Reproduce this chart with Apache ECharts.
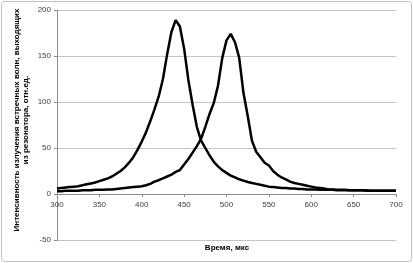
<!DOCTYPE html>
<html>
<head>
<meta charset="utf-8">
<script src="https://cdn.jsdelivr.net/npm/echarts@6/dist/echarts.min.js"></script>
<style>
html,body{margin:0;padding:0;background:#fff;}
#c{width:413px;height:263px;}
</style>
</head>
<body>
<div id="c"></div>
<script>
const time = [300,305,310,315,320,325,330,335,340,345,350,355,360,365,370,375,380,385,390,395,400,405,410,415,420,425,430,435,440,445,450,455,460,465,470,475,480,485,490,495,500,505,510,515,520,525,530,535,540,545,550,555,560,565,570,575,580,585,590,595,600,605,610,615,620,625,630,635,640,645,650,655,660,665,670,675,680,685,690,695,700];
const waveA = [6,6.5,7,7.5,8,8.5,9.5,10.5,11.5,12.5,14,15.5,17,19,22,25,29,34,40,48,57,67,79,92,106,125,152,176,189,182,158,124,97,73,58,50,42,35,30,26,23,20,18,16,14.5,13,12,11,10,9,8,7.5,7,6.5,6.5,6,6,5.5,5.5,5,5,5,4.5,4.5,4.5,4.5,4,4,4,4,4,4,4,3.5,3.5,3.5,3.5,3.5,3.5,3.5,3.5];
const waveB = [3,3,3.5,3.5,3.5,3.5,4,4,4,4.5,4.5,4.5,5,5,5.5,6,6.5,7,7.5,8,8.5,9.5,11,13.4,15,17,19,21,24,26,32,38,45,52,60,73,87,99,118,148,167,174,165,148,110,85,58,46,40,34,31,25,21,18,16,13.5,12,11,10,9,8,7,6.5,6,5,5,4.5,4.5,4.5,4,4,4,4,4,3.5,3.5,3.5,3.5,3.5,3.5,3.5];
const yTitle = 'Интенсивность излучения встречных волн, выходящих\nиз резонатора, отн.ед.';
const xTitle = 'Время, мкс';

const chart = echarts.init(document.getElementById('c'), null, {renderer:'canvas'});
const pairs = a => time.map((t,i)=>[t,a[i]]);
chart.setOption({
  animation:false,
  backgroundColor:'#fff',
  grid:{left:57,right:17,top:10,bottom:23},
  xAxis:{
    type:'value',min:300,max:700,interval:50,
    offset:-46,
    axisLine:{onZero:false,lineStyle:{color:'#8c8c8c',width:1}},
    axisTick:{show:true,length:3,inside:false,lineStyle:{color:'#8c8c8c'}},
    axisLabel:{fontSize:8,color:'#404040',margin:7,fontFamily:'Liberation Sans'},
    splitLine:{show:false}
  },
  yAxis:{
    type:'value',min:-50,max:200,interval:50,
    axisLine:{show:true,lineStyle:{color:'#8c8c8c',width:1}},
    axisTick:{show:true,length:3,lineStyle:{color:'#8c8c8c'}},
    axisLabel:{fontSize:8,color:'#404040',margin:6,fontFamily:'Liberation Sans'},
    splitLine:{show:true,lineStyle:{color:'#c4c4c4',width:1}}
  },
  graphic:[
    {type:'rect',shape:{x:1.5,y:1.5,width:410,height:260,r:3},style:{fill:'none',stroke:'#c0c0c0',lineWidth:1},silent:true},
    {type:'text',x:21,y:120,rotation:Math.PI/2,style:{text:yTitle,fontSize:8,fontWeight:'bold',fontFamily:'Liberation Sans',fill:'#000',align:'center',verticalAlign:'middle',lineHeight:9}},
    {type:'text',x:227,y:248,style:{text:xTitle,fontSize:8,fontWeight:'bold',fontFamily:'Liberation Sans',fill:'#000',align:'center',verticalAlign:'middle'}}
  ],
  series:[
    {type:'line',data:pairs(waveA),showSymbol:false,lineStyle:{color:'#000',width:2.5},z:3},
    {type:'line',data:pairs(waveB),showSymbol:false,lineStyle:{color:'#000',width:2.5},z:3}
  ]
});
</script>
</body>
</html>
